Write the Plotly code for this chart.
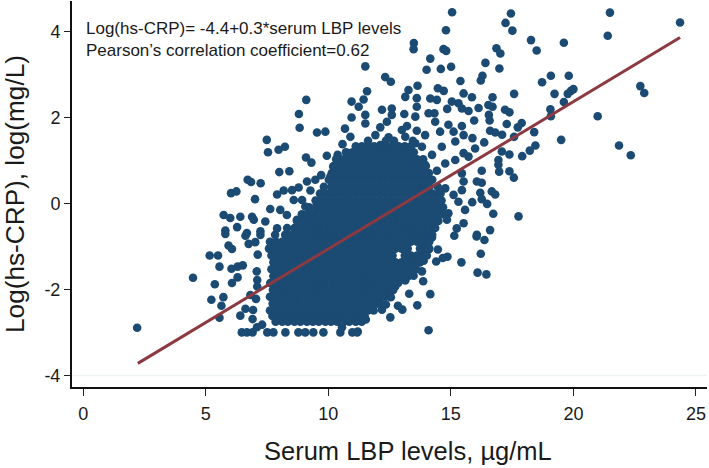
import plotly.graph_objects as go

# Individually readable points: (LBP, log hs-CRP)
outer_points = [
(15.05,4.45),(17.45,4.42),(17.23,4.20),(17.51,4.02),(14.80,4.03),(21.49,4.44),(21.40,3.90),(24.35,4.21),
(18.27,3.80),(18.50,3.56),(19.61,3.74),(13.49,3.73),(13.48,3.59),(14.70,3.59),(14.81,3.55),(16.86,3.61),
(17.02,3.49),(14.16,3.37),(16.41,3.27),(11.51,3.19),(14.01,3.11),(14.59,3.13),(15.01,3.18),(16.98,3.14),
(12.32,2.94),(12.55,2.83),(15.39,2.85),(16.29,2.97),(16.22,2.86),(18.72,2.82),(19.08,2.97),(19.81,2.97),
(22.73,2.73),(22.89,2.57),(20.00,2.66),(19.90,2.62),(19.77,2.55),(19.23,2.55),(17.58,2.55),(19.61,2.36),
(19.06,2.19),(19.08,2.03),(20.99,2.03),(21.86,1.35),(22.34,1.12),(19.50,1.48),(18.40,1.66),(18.45,1.35),
(18.22,1.23),(17.91,1.10),(17.89,1.87),(17.73,1.77),(17.58,1.55),(17.28,1.85),(17.39,2.12),(17.21,2.18),
(16.55,2.06),(16.58,1.93),(16.70,2.47),(16.53,2.29),(16.70,2.25),(16.13,2.22),(15.95,1.93),(16.60,1.69),
(16.81,1.65),(17.09,1.60),(16.36,1.42),(15.88,1.52),(15.99,1.28),(17.08,1.21),(17.39,1.14),(16.94,1.01),
(16.94,0.90),(16.97,0.74),(17.39,0.75),(17.57,0.60),(16.26,0.76),(16.26,0.48),(16.06,0.51),(16.67,0.28),
(16.81,0.21),(16.20,0.25),(16.26,0.10),(16.48,-0.01),(15.87,0.03),(16.73,-0.24),(17.76,-0.30),(16.60,-0.62),
(16.06,-0.73),(15.72,1.09),(15.52,1.17),(15.18,1.01),(14.77,0.93),(14.43,0.76),(15.45,0.70),(15.52,0.51),
(15.45,0.31),(15.11,0.20),(15.31,0.04),(15.58,-0.15),(14.90,-0.23),(14.84,-0.38),(15.52,-0.46),(15.24,-0.58),
(14.77,0.35),(13.27,2.64),(13.64,2.74),(13.14,2.48),(13.61,2.45),(13.61,2.25),(13.55,2.02),(14.47,2.68),
(14.71,2.62),(14.16,2.44),(14.43,2.41),(14.85,2.20),(15.04,2.37),(15.31,2.33),(15.52,2.56),(15.86,2.47),
(15.45,2.21),(15.72,2.15),(14.09,2.10),(14.33,2.10),(14.36,1.90),(13.10,2.08),(12.59,2.21),(12.19,2.18),
(12.59,2.06),(12.39,1.90),(12.12,1.77),(11.58,2.61),(11.44,2.42),(11.24,2.25),(11.51,2.06),(11.51,1.86),
(14.90,1.83),(15.45,1.80),(13.21,1.80),(13.61,1.69),(13.00,1.71),(11.92,1.59),(12.46,1.54),(13.95,1.59),
(14.56,1.67),(15.11,1.67),(15.52,1.59),(15.18,1.44),(14.63,1.32),(14.23,1.13),(13.95,0.90),(13.55,1.40),
(13.14,1.55),(11.37,1.24),(11.64,1.32),(12.12,1.36),(12.73,1.32),(13.27,1.24),(13.82,1.32),
(15.14,-0.75),(16.05,-0.77),(16.37,-0.85),(16.22,-1.17),(16.09,-1.61),(16.45,-1.65),(15.43,-1.37),(14.86,-1.24),
(14.67,-1.27),(14.47,-1.07),(14.40,-1.35),(14.09,-1.07),(13.89,-1.33),(13.82,-1.58),(13.87,-1.81),(14.16,-2.11),
(13.63,-2.37),(13.30,-2.10),(13.14,-1.79),(13.00,-1.76),(12.73,-1.93),(12.55,-2.18),(12.84,-2.38),(13.02,-2.47),
(12.53,-2.65),(12.19,-2.47),(12.35,-2.35),(12.02,-2.26),(14.09,-2.95),(11.53,-2.70),(11.20,-2.98),(13.48,-1.68),
(13.41,-1.25),(13.68,-0.86),(13.14,-1.41),(12.73,-1.56),(11.78,-2.38),(11.37,-2.61),(14.23,-0.79),(12.46,-1.95),
(12.12,-2.07),
(9.10,2.41),(8.80,2.08),(8.83,1.76),(9.54,1.65),(9.88,1.67),(10.95,2.37),(10.95,2.00),(10.68,1.74),(10.90,1.55),
(10.58,1.38),(7.49,1.48),(7.54,1.19),(7.97,1.25),(8.23,1.32),(9.09,1.07),(9.31,0.95),(9.94,1.11),(10.38,1.13),
(10.83,1.17),(8.00,0.73),(8.41,0.75),(6.71,0.55),(6.85,0.50),(7.24,0.47),(6.03,0.24),(6.25,0.28),(7.01,0.10),
(7.91,0.21),(8.18,0.30),(8.52,0.31),(8.79,0.37),(9.13,0.51),(9.47,0.55),(9.71,0.66),(9.27,0.30),(8.59,0.08),
(8.93,0.08),(9.06,-0.07),(7.63,-0.13),(8.04,-0.15),(5.73,-0.27),(6.00,-0.34),(6.41,-0.31),(6.89,-0.31),(6.96,-0.38),
(5.80,-0.63),(6.28,-0.55),(6.68,-0.69),(7.43,-0.42),(7.23,-0.65),(7.91,-0.58),(8.31,-0.27),(8.72,-0.38),(10.20,0.86),
(10.49,1.01),(10.08,0.62),
(5.80,-0.71),(6.62,-0.75),(7.23,-0.73),(5.93,-0.98),(6.07,-1.06),(6.75,-0.94),(7.02,-0.90),(5.16,-1.21),(5.50,-1.21),
(7.12,-1.19),(5.56,-1.47),(6.05,-1.52),(6.30,-1.47),(6.51,-1.44),(7.08,-1.58),(4.48,-1.73),(6.30,-1.72),(6.07,-1.85),
(5.37,-1.88),(7.10,-1.78),(7.10,-1.93),(6.82,-2.13),(7.05,-2.22),(5.72,-2.18),(5.23,-2.24),(5.64,-2.38),(6.41,-2.61),
(6.62,-2.45),(6.93,-2.48),(6.91,-2.69),(5.56,-2.66),(7.30,-2.82),(7.09,-2.88),(2.20,-2.89),(10.56,-2.88),
(6.47,-3.0),(6.68,-3.0),(6.91,-3.0),(7.51,-3.0),(7.76,-3.0),(8.25,-3.0),(8.78,-3.0),(9.06,-3.0),
(9.39,-3.0),(9.80,-3.0),(10.49,-3.0),(10.98,-3.0),(11.18,-3.0),
]

# The core of the cloud is solid ink, so single points cannot be read there.
# These hand-placed estimates reproduce the solid region row by row.
core_crp = [-2.75,-2.62,-2.49,-2.33,-2.17,-2.01,-1.85,-1.69,-1.53,-1.37,-1.21,-1.05,-0.89,-0.73,
            -0.57,-0.41,-0.25,-0.09,0.07,0.23,0.39,0.55,0.71,0.87,1.03,1.19,1.33,1.46]
core_lbp = [
[7.85,8.12,8.35,8.62,8.86,9.13,9.37,9.61,9.88,10.11,10.36,10.63,10.85,11.12,11.36],
[7.72,7.98,8.24,8.47,8.75,8.98,9.25,9.49,9.74,9.99,10.25,10.48,10.74,10.99,11.24,11.48],
[7.62,7.86,8.11,8.36,8.61,8.86,9.12,9.36,9.62,9.87,10.12,10.37,10.62,10.86,11.11,11.37,11.62,11.85],
[7.73,7.99,8.24,8.48,8.74,8.99,9.24,9.49,9.75,9.99,10.24,10.49,10.74,10.99,11.25,11.49,11.74,11.99,12.14],
[7.62,7.87,8.12,8.37,8.62,8.86,9.12,9.37,9.62,9.87,10.12,10.37,10.61,10.87,11.12,11.37,11.62,11.87,12.12,12.33],
[7.74,7.99,8.24,8.49,8.74,8.99,9.25,9.49,9.74,9.99,10.24,10.49,10.75,10.99,11.24,11.49,11.74,11.99,12.24,12.47,12.65],
[7.63,7.87,8.12,8.37,8.62,8.87,9.12,9.37,9.62,9.87,10.13,10.37,10.62,10.87,11.12,11.37,11.62,11.87,12.12,12.37,12.62,12.85],
[7.76,7.99,8.24,8.49,8.74,8.99,9.24,9.49,9.75,9.99,10.24,10.49,10.74,10.99,11.24,11.49,11.74,11.99,12.24,12.49,12.74,12.99,13.25],
[7.68,7.87,8.12,8.37,8.62,8.87,9.12,9.37,9.62,9.87,10.12,10.37,10.62,10.87,11.12,11.37,11.62,11.87,12.12,12.37,12.62,12.87,13.12,13.37,13.58],
[7.76,7.99,8.24,8.49,8.74,8.99,9.24,9.49,9.74,9.99,10.24,10.49,10.74,10.99,11.24,11.49,11.74,11.99,12.24,12.49,12.74,12.99,13.24,13.49,13.74],
[7.68,7.87,8.12,8.37,8.62,8.87,9.12,9.37,9.62,9.87,10.12,10.37,10.62,10.87,11.12,11.37,11.62,11.87,12.12,12.37,12.62,13.12,13.37,13.62,13.87,14.02],
[7.58,7.79,7.99,8.24,8.49,8.74,8.99,9.24,9.49,9.74,9.99,10.24,10.49,10.74,10.99,11.24,11.49,11.74,11.99,12.24,12.49,12.74,12.99,13.24,13.74,13.99,14.12],
[7.62,7.87,8.12,8.37,8.62,8.87,9.12,9.37,9.62,9.87,10.12,10.37,10.62,10.87,11.12,11.37,11.62,11.87,12.12,12.37,12.62,12.87,13.12,13.37,13.62,13.87,14.12],
[7.83,8.24,8.49,8.74,8.99,9.24,9.49,9.74,9.99,10.24,10.49,10.74,10.99,11.24,11.49,11.74,11.99,12.24,12.49,12.74,12.99,13.24,13.49,13.74,13.99,14.24],
[8.32,8.62,8.87,9.12,9.37,9.62,9.87,10.12,10.37,10.62,10.87,11.12,11.37,11.62,11.87,12.12,12.37,12.62,12.87,13.12,13.37,13.62,13.87,14.12,14.36],
[8.72,8.99,9.24,9.49,9.74,9.99,10.24,10.49,10.74,10.99,11.24,11.49,11.74,11.99,12.24,12.49,12.74,12.99,13.24,13.49,13.74,13.99,14.24,14.49],
[8.92,9.12,9.37,9.62,9.87,10.12,10.37,10.62,10.87,11.12,11.37,11.62,11.87,12.12,12.37,12.62,12.87,13.12,13.37,13.62,13.87,14.12,14.37,14.62],
[9.22,9.49,9.74,9.99,10.24,10.49,10.74,10.99,11.24,11.49,11.74,11.99,12.24,12.49,12.74,12.99,13.24,13.49,13.74,13.99,14.24,14.49,14.68],
[9.48,9.62,9.87,10.12,10.37,10.62,10.87,11.12,11.37,11.62,11.87,12.12,12.37,12.62,12.87,13.12,13.37,13.62,13.87,14.12,14.37,14.62],
[9.66,9.74,9.99,10.24,10.49,10.74,10.99,11.24,11.49,11.74,11.99,12.24,12.49,12.74,12.99,13.24,13.49,13.74,13.99,14.24,14.49,14.58],
[9.82,10.12,10.37,10.62,10.87,11.12,11.37,11.62,11.87,12.12,12.37,12.62,12.87,13.12,13.37,13.62,13.87,14.12,14.46],
[10.02,10.24,10.49,10.74,10.99,11.24,11.49,11.74,11.99,12.24,12.49,12.74,12.99,13.24,13.49,13.74,13.99,14.24],
[10.14,10.37,10.62,10.87,11.12,11.37,11.62,11.87,12.12,12.37,12.62,12.87,13.12,13.37,13.62,13.87,14.10],
[10.22,10.49,10.74,10.99,11.24,11.49,11.74,11.99,12.24,12.49,12.74,12.99,13.24,13.49,13.74,13.98],
[10.32,10.62,10.87,11.12,11.37,11.62,11.87,12.12,12.37,12.62,12.87,13.12,13.37,13.62,13.87],
[10.72,10.99,11.24,11.49,11.74,11.99,12.24,12.49,12.74,12.99,13.24,13.49],
[11.12,11.37,11.62,11.87,12.12,12.37,12.62,12.87,13.12,13.37],
[11.62,12.35,12.68,13.45],
]

fit_lbp = [2.23, 24.35]
fit_crp = [-3.72, 3.86]

x_ticks = [0, 5, 10, 15, 20, 25]
y_ticks = [-4, -2, 0, 2, 4]
y_tick_labels = ["-4", "-2", "0", "2", "4"]

lbp = [p[0] for p in outer_points]
crp = [p[1] for p in outer_points]
for row_y, row_xs in zip(core_crp, core_lbp):
    lbp.extend(row_xs)
    crp.extend([row_y] * len(row_xs))

fig = go.Figure()
fig.add_trace(go.Scatter(x=lbp, y=crp, mode="markers",
                         marker=dict(color="#1b4a73", size=8.6, line=dict(width=0)),
                         showlegend=False, cliponaxis=False))
fig.add_trace(go.Scatter(x=fit_lbp, y=fit_crp, mode="lines",
                         line=dict(color="#8c3a42", width=3), showlegend=False))

fig.add_shape(type="line", xref="paper", x0=0, x1=1, yref="y", y0=-4, y1=-4,
              line=dict(color="#eef3f3", width=1.5), layer="below")

font = "Liberation Sans, Arial, sans-serif"
fig.add_annotation(xref="paper", yref="paper", x=0.0195, y=0.928, xanchor="left", yanchor="middle",
                   text="Log(hs-CRP)= -4.4+0.3*serum LBP levels", showarrow=False,
                   font=dict(family=font, size=17, color="#1a1a1a"))
fig.add_annotation(xref="paper", yref="paper", x=0.0195, y=0.873, xanchor="left", yanchor="middle",
                   text="Pearson’s correlation coefficient=0.62", showarrow=False,
                   font=dict(family=font, size=17, color="#1a1a1a"))
fig.add_annotation(xref="paper", yref="paper", x=0.5295, y=-0.165, xanchor="center", yanchor="middle",
                   text="Serum LBP levels, µg/mL", showarrow=False,
                   font=dict(family=font, size=25.5, color="#1a1a1a"))

fig.update_layout(
    width=709, height=468, autosize=False,
    margin=dict(l=71.5, r=2, t=1, b=81),
    paper_bgcolor="white", plot_bgcolor="white",
    font=dict(family=font, color="#1a1a1a"),
    xaxis=dict(range=[-0.457, 25.45], tickvals=x_ticks, ticks="outside", ticklen=7, tickwidth=1,
               tickcolor="#222", showgrid=False, zeroline=False, showline=True, linecolor="#111",
               linewidth=2, tickfont=dict(size=18), ticklabelstandoff=2),
    yaxis=dict(range=[-4.27, 4.71], tickvals=y_ticks, ticktext=y_tick_labels, ticks="outside", ticklen=6,
               tickwidth=1, tickcolor="#222", showgrid=False, zeroline=False, showline=True,
               linecolor="#111", linewidth=2, tickfont=dict(size=18),
               title=dict(text="Log(hs-CRP), log(mg/L)", font=dict(size=26.2), standoff=12)),
)
fig.write_html("out.html", config={"displayModeBar": False},
               post_script="document.body.style.margin='0';")
